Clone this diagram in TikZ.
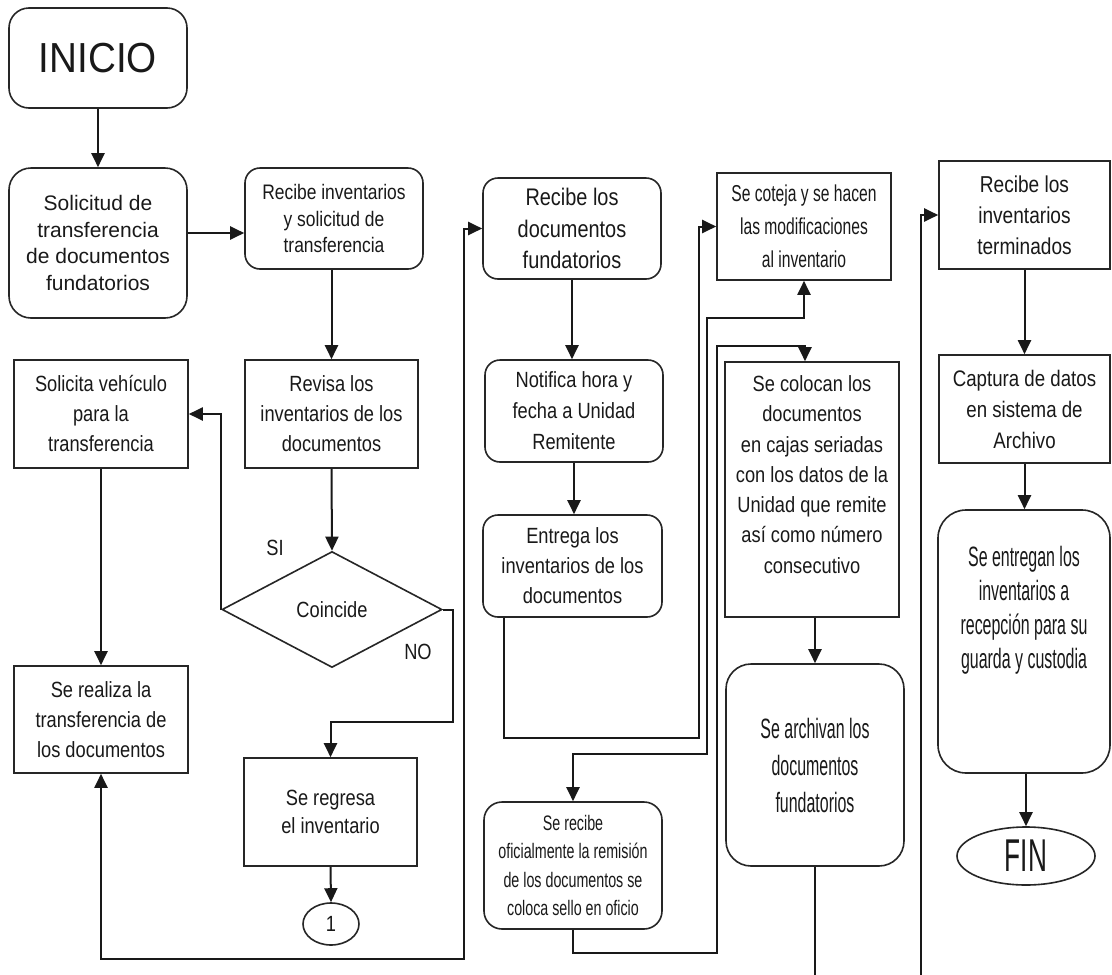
\documentclass[tikz,border=0pt]{standalone}
\usepackage{fontspec}
\setmainfont{Liberation Sans}
\newfontfamily\fI{Liberation Sans}[FakeStretch=0.92]
\newfontfamily\fA{Liberation Sans}[FakeStretch=0.83]
\newfontfamily\fB{Liberation Sans}[FakeStretch=0.68]
\newfontfamily\fC{Liberation Sans}[FakeStretch=0.57]
\usetikzlibrary{arrows.meta,shapes.geometric}
\tikzset{
  base/.style={draw=black!85, line width=1.6pt, inner sep=0pt, align=center, fill=white, text=black!90},
  rbox/.style={base, rounded corners=15pt},
  sbox/.style={base},
  dbox/.style={base, diamond},
  ebox/.style={base, ellipse},
  conn/.style={line width=2pt, draw=black!90, -{Triangle[length=14pt,width=13pt]}},
  conntwo/.style={line width=2pt, draw=black!90, {Triangle[length=14pt,width=13pt]}-{Triangle[length=14pt,width=13pt]}},
  tN/.style={font=\fontsize{21}{26.7}\selectfont},
  tA/.style={font=\fA\fontsize{22}{30}\selectfont},
}
\begin{document}
\begin{tikzpicture}[x=1pt,y=-1pt]
\fill[white] (0,0) rectangle (1112,975);
\useasboundingbox (0,0) rectangle (1112,975);

% column 1-2
\node[rbox, rounded corners=20pt, minimum width=178pt, minimum height=100pt, font=\fI\fontsize{42}{48}\selectfont] (inicio) at (98,58) {INICIO};
\node[rbox, rounded corners=22pt, minimum width=178pt, minimum height=150pt, tN] (solicitud) at (98,243) {Solicitud de\\transferencia\\de documentos\\fundatorios};
\node[rbox, minimum width=178pt, minimum height=101pt, font=\fA\fontsize{21}{26.7}\selectfont] (recinv) at (334,218.5) {Recibe inventarios\\y solicitud de\\transferencia};
\node[sbox, minimum width=173pt, minimum height=108pt, tA] (revisa) at (331.5,414) {Revisa los\\inventarios de los\\documentos};
\node[sbox, minimum width=174pt, minimum height=108pt, tA] (solicita) at (101,414) {Solicita vehículo\\para la\\transferencia};
\node[dbox, minimum width=220pt, minimum height=116pt, tA] (dia) at (332,609.5) {Coincide};
\node[sbox, minimum width=174pt, minimum height=107pt, tA] (realiza) at (101,719.5) {Se realiza la\\transferencia de\\los documentos};
\node[sbox, minimum width=173pt, minimum height=108pt, font=\fA\fontsize{22}{28}\selectfont] (regresa) at (330.5,812) {Se regresa\\el inventario};
\node[ebox, minimum width=56pt, minimum height=42pt, tA] (uno) at (331,924) {1};
\node[font=\fA\fontsize{22}{26}\selectfont, text=black!90] (si) at (275,548) {SI};
\node[font=\fA\fontsize{22}{26}\selectfont, text=black!90] (no) at (418,652) {NO};

% column 3
\node[rbox, minimum width=178pt, minimum height=101pt, font=\fA\fontsize{24}{31.5}\selectfont] (recdocs) at (572,228.5) {Recibe los\\documentos\\fundatorios};
\node[rbox, minimum width=178pt, minimum height=102pt, font=\fA\fontsize{22}{31}\selectfont] (notifica) at (574,411) {Notifica hora y\\fecha a Unidad\\Remitente};
\node[rbox, minimum width=179pt, minimum height=102pt, tA] (entrega) at (572.5,566) {Entrega los\\inventarios de los\\documentos};
\node[rbox, rounded corners=18pt, minimum width=178pt, minimum height=127pt, font=\fB\fontsize{21}{28.5}\selectfont] (serecibe) at (573,865.5) {Se recibe\\oficialmente la remisión\\de los documentos se\\coloca sello en oficio};

% column 4
\node[sbox, minimum width=174pt, minimum height=107pt, font=\fB\fontsize{23}{33}\selectfont] (coteja) at (804,226.5) {Se coteja y se hacen\\las modificaciones\\al inventario};
\node[sbox, minimum width=174pt, minimum height=255pt, font=\fA\fontsize{22}{30.3}\selectfont] (colocan) at (812,489.5) {Se colocan los\\documentos\\en cajas seriadas\\con los datos de la\\Unidad que remite\\así como número\\consecutivo\\\mbox{}};
\node[rbox, rounded corners=25pt, minimum width=178pt, minimum height=202pt, font=\fC\fontsize{28}{37}\selectfont] (archivan) at (815,765) {Se archivan los\\documentos\\fundatorios};

% column 5
\node[sbox, minimum width=171pt, minimum height=108pt, font=\fA\fontsize{23}{31}\selectfont] (terminados) at (1024.5,215) {Recibe los\\inventarios\\terminados};
\node[sbox, minimum width=171pt, minimum height=108pt, font=\fA\fontsize{22.5}{31}\selectfont] (captura) at (1024.5,409) {Captura de datos\\en sistema de\\Archivo};
\node[rbox, rounded corners=28pt, minimum width=172pt, minimum height=263pt, font=\fC\fontsize{28}{34}\selectfont] (entregan) at (1024,641.5) {Se entregan los\\inventarios a\\recepción para su\\guarda y custodia\\\mbox{}\\\mbox{}};
\node[ebox, minimum width=138pt, minimum height=58pt, font=\fC\fontsize{46}{50}\selectfont] (fin) at (1026,856) {FIN};

% helper coordinates
\coordinate (y233) at (0,233);
\coordinate (nojoin) at (453,722);
\coordinate (ebend) at (504,738);
\coordinate (ctop) at (805,346);

% connectors
\draw[conn] (inicio.south) -- (solicitud.north);
\draw[conn] (solicitud.east |- y233) -- (recinv.west |- y233);
\draw[conn] (revisa.north |- recinv.south) -- (revisa.north);
\draw[conn] (revisa.south) -- (dia.north);
\draw[conn] (dia.west) |- (solicita.east);
\draw[conn] (solicita.south) -- (realiza.north);
\draw[conn] (dia.east) -- (dia.east -| nojoin) -- (nojoin) -- (regresa.north |- nojoin) -- (regresa.north);
\draw[conn] (regresa.south) -- (uno.north);
\draw[conntwo] (realiza.south) -- (101,959) -- (464,959) |- (recdocs.west);

\draw[conn] (recdocs.south) -- (notifica.north -| recdocs.south);
\draw[conn] (notifica.south) -- (entrega.north -| notifica.south);
\draw[conn] (entrega.south -| ebend) -- (ebend) -- (699,738) |- (coteja.west);
\draw[conntwo] (serecibe.north) -- (573,754) -- (707,754) -- (707,318) -| (coteja.south);
\draw[conn] (serecibe.south) -- (573,953) -- (717,953) -- (717,346) -- (ctop) -- (ctop |- colocan.north);
\draw[conn] (archivan.north |- colocan.south) -- (archivan.north);
\begin{scope}
  \clip (0,0) rectangle (1112,975);
  \draw[conn] (archivan.south) -- (815,1000) -- (921,1000) |- (terminados.west);
\end{scope}
\draw[conn] (terminados.south) -- (captura.north);
\draw[conn] (captura.south) -- (entregan.north -| captura.south);
\draw[conn] (entregan.south -| fin.north) -- (fin.north);
\end{tikzpicture}
\end{document}
